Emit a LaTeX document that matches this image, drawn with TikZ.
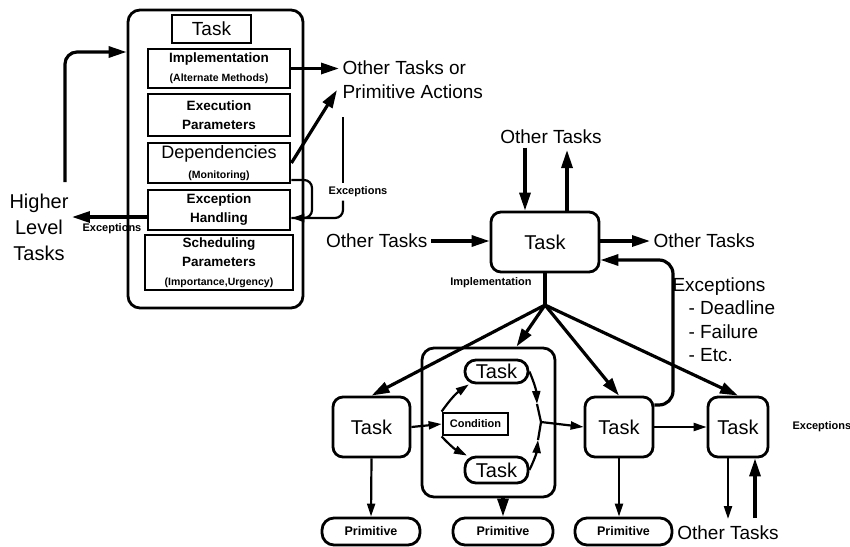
\documentclass[tikz,border=0pt]{standalone}
\usepackage{fontspec}
\setmainfont{Liberation Sans}
\usetikzlibrary{arrows.meta}
\newcommand\smallbold{\bfseries\fontsize{10.5}{11}\selectfont}

\begin{document}
\begin{tikzpicture}[x=1pt,y=-1pt,
  big/.style={font=\fontsize{19}{24}\selectfont},
  mid/.style={font=\bfseries\fontsize{13.5}{19}\selectfont},
  tiny/.style={font=\bfseries\fontsize{11}{12}\selectfont},
  field/.style={draw,line width=2.8pt,inner sep=0pt,align=center,minimum width=142pt},
  task/.style={draw,line width=2.8pt,rounded corners=10pt,font=\fontsize{20}{24}\selectfont},
  pill/.style={draw,line width=2.8pt,rounded corners=12pt,inner sep=0pt,minimum height=27pt,font=\bfseries\fontsize{12.5}{14}\selectfont},
  arr/.style={line width=3.2pt,-{Triangle[length=18pt,width=11pt]}},
  arrs/.style={line width=2.2pt,-{Triangle[length=13pt,width=8pt]}}]
  \useasboundingbox (0,0) rectangle (850,546);

  % task record with its fields
  \node[draw,line width=2.8pt,rounded corners=12pt,minimum width=175pt,minimum height=298pt] (frame) at (215.5,159) {};
  \node[field,minimum width=79pt,minimum height=28pt,font=\fontsize{19}{22}\selectfont] (head) at (211.5,29) {Task};
  \node[field,minimum height=39pt,mid] (impl) at (219,68.5) {Implementation\\\smallbold (Alternate Methods)};
  \node[field,minimum height=42pt,mid] (exec) at (219,115) {Execution\\Parameters};
  \node[field,minimum height=40pt,font=\fontsize{18}{20}\selectfont] (dep) at (219,163) {Dependencies\\\smallbold (Monitoring)};
  \node[field,minimum height=40pt,mid] (exc) at (219,210) {Exception\\Handling};
  \node[field,minimum width=148pt,minimum height=55pt,mid] (sched) at (219,262.5) {Scheduling\\Parameters\\\smallbold (Importance,Urgency)};

  \node[font=\fontsize{20}{26}\selectfont,align=center] (higher) at (39,227) {Higher\\Level\\Tasks};
  \node[big,align=left,anchor=west] (otherleft) at (339,80) {Other Tasks or\\Primitive Actions};
  \node[tiny] (excout) at (112,229) {Exceptions};
  \node[tiny] (excin) at (358,192) {Exceptions};

  % calls in, exceptions out
  \coordinate (call) at (65,182);
  \draw[arr,rounded corners=12pt] (call) |- (frame.west |- 0,52);
  \draw[arr] (exc.west |- 0,217) -- (higher.east |- 0,217);
  \draw[arr] (impl.east) -- (impl.east -| otherleft.west);
  \draw[arr] (dep.east) -- (337,90);
  % dependency loop and incoming exceptions
  \draw[line width=2.2pt,rounded corners=8pt] (dep.east |- 0,180) -| (312,218) -- (exc.east |- 0,218);
  \draw[line width=2.2pt] (343,117) -- (excin.north -| 343,0);
  \draw[arrs,rounded corners=8pt] (excin.south -| 343,0) |- (exc.east |- 0,218);

  % task network
  \node[task,minimum width=108pt,minimum height=60pt] (main) at (545,242) {Task};
  \node[big] (ot1) at (551,137) {Other Tasks};
  \node[big,anchor=east] (ot2) at (431,241) {Other Tasks};
  \node[big,anchor=west] (ot3) at (650,241) {Other Tasks};
  \node[big] (ot4) at (728,533) {Other Tasks};
  \node[tiny] (implbl) at (491,283) {Implementation};
  \node[big,anchor=north west,align=left,font=\fontsize{19}{23.5}\selectfont] (exlist) at (669,274)
    {Exceptions\\\hspace*{16pt}- Deadline\\\hspace*{16pt}- Failure\\\hspace*{16pt}- Etc.};

  \draw[arr] (ot1.south -| 525,0) -- (main.north -| 525,0);
  \draw[arr] (main.north -| 567,0) -- (567,150);
  \draw[arr] (ot2.east) -- (main.west |- ot2.east);
  \draw[arr] (main.east |- ot3.west) -- (ot3.west);

  % subtasks
  \node[task,minimum width=77pt,minimum height=60pt] (t1) at (371.5,427) {Task};
  \node[draw,line width=2.8pt,rounded corners=12pt,minimum width=133pt,minimum height=149pt] (grp) at (488.5,422.5) {};
  \node[task,rounded corners=11pt,minimum width=63pt,minimum height=23pt,inner sep=0pt] (tA) at (496.5,371.5) {Task};
  \node[task,rounded corners=11pt,minimum width=63pt,minimum height=26pt,inner sep=0pt] (tB) at (496.5,470) {Task};
  \node[draw,line width=2.8pt,minimum width=65pt,minimum height=22pt,inner sep=0pt,font=\bfseries\fontsize{11}{13}\selectfont] (cond) at (475.5,424) {Condition};
  \node[task,minimum width=68pt,minimum height=60pt] (t3) at (619,427) {Task};
  \node[task,minimum width=60pt,minimum height=60pt] (t4) at (738,427) {Task};
  \node[tiny,anchor=west] (excright) at (789,427) {Exceptions};
  \node[pill,minimum width=98pt] (p1) at (371,531.5) {Primitive};
  \node[pill,minimum width=100pt] (p2) at (503,531.5) {Primitive};
  \node[pill,minimum width=97pt] (p3) at (623.5,531.5) {Primitive};

  % implementation fan
  \coordinate (fan) at (545,305);
  \draw[line width=3.2pt] (main.south) -- (fan);
  \foreach \t in {t1,t3,t4}
    \draw[arr] (fan) -- (\t.north);
  \draw[arr] (fan) -- ([xshift=28pt]grp.north);

  % conditional branch
  \coordinate (m) at (541,422);
  \coordinate (mA) at (537,404);
  \coordinate (mB) at (538,440);
  \draw[arrs] (t1.east) -- (cond.west);
  \draw[arrs] (cond.north west) to[bend left=10] (tA.205);
  \draw[arrs] (cond.south west) to[bend right=10] (tB.154);
  \draw[arrs] (tA.east) to[bend left=10] (mA);
  \draw[line width=2.2pt] (mA) -- (m);
  \draw[arrs] (tB.east) to[bend right=10] (mB);
  \draw[line width=2.2pt] (mB) -- (m);
  \draw[arrs] (m) -- (t3.west);
  \draw[arrs] (t3.east) -- (t4.west);

  % exceptions back to the parent
  \draw[arr,rounded corners=14pt] (t3.east |- 0,405) -| (673,260) -- (main.east |- 0,260);

  % primitives and outside tasks
  \draw[arrs] (t1.south) -- (p1.north);
  \draw[arr] (grp.south -| p2.north) -- (p2.north);
  \draw[arrs] (t3.south) -- (t3.south |- p3.north);
  \draw[arrs] (t4.south -| 728,0) -- (728,519);
  \draw[arr] (755,518) -- (t4.south -| 755,0);
\end{tikzpicture}
\end{document}
